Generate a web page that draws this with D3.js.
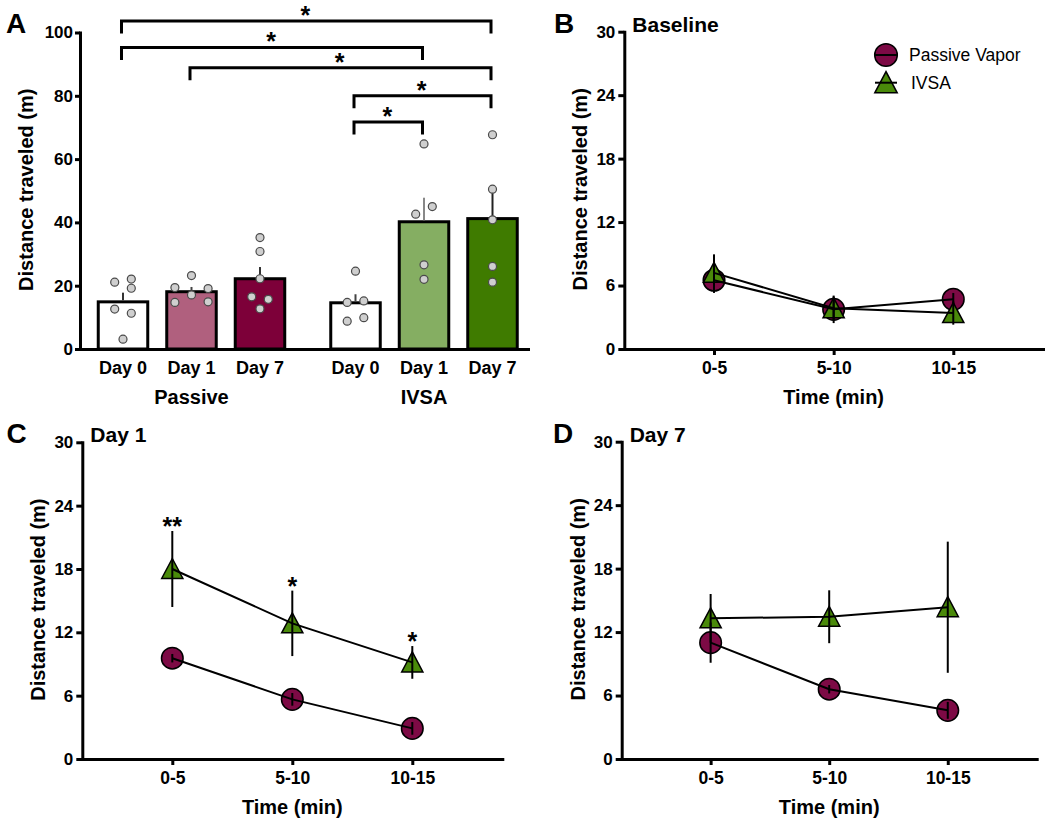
<!DOCTYPE html>
<html><head><meta charset="utf-8">
<script src="https://cdn.jsdelivr.net/npm/d3@7"></script>
<style>
body{margin:0;background:#fff;}
svg{display:block;font-family:"Liberation Sans",Arial,Helvetica,sans-serif;}
</style></head><body>
<svg id="c" width="1050" height="825"></svg>
<script>
// ---------------- DATA ----------------
const groups = ["Passive", "IVSA"];
const days = ["Day 0", "Day 1", "Day 7"];
const barMeans = [[14.9, 18.1, 22.2], [14.6, 40.2, 41.2]];
const barSEM = [[2.9, 1.5, 3.7], [2.7, 7.6, 9.2]];
const barPoints = [
  [[21.1, 22.1, 19.2, 12.6, 11.3, 3.1], [19.4, 23.2, 19.1, 14.7, 17.1, 14.9], [35.2, 30.8, 22.2, 16.5, 15.7, 12.7]],
  [[24.6, 14.7, 15.2, 8.8, 9.9], [64.8, 42.6, 45.0, 26.6, 22.0], [67.7, 50.5, 40.8, 26.1, 21.1]]
];
const dotSlots = [
  [[-1, 1, 1, -1, 1, 0], [-2, 0, 2, -2, 0, 2], [0, 0, 0, -1, 1, 0]],
  [[0, -1, 1, -1, 1], [0, -1, 1, 0, 0], [0, 0, 0, 0, 0]]
];
const barTicks = [0, 20, 40, 60, 80, 100];
// comparisons: from [group, day] to [group, day], bracket level (m), label
const comparisons = [
  { a: [0, 0], b: [1, 2], level: 103.6, label: "*" },
  { a: [0, 0], b: [1, 1], level: 95.3, label: "*" },
  { a: [0, 1], b: [1, 2], level: 88.9, label: "*" },
  { a: [1, 0], b: [1, 2], level: 80.0, label: "*" },
  { a: [1, 0], b: [1, 1], level: 71.7, label: "*" }
];

const timeBins = ["0-5", "5-10", "10-15"];
const lineTicks = [0, 6, 12, 18, 24, 30];
const seriesNames = ["Passive Vapor", "IVSA"];
const baselinePassive = [6.5, 3.75, 4.7];
const baselinePassiveErr = [1.2, 1.3, 0.6];
const baselineIVSA = [7.2, 3.85, 3.4];
const baselineIVSAErr = [1.75, 1.1, 1.1];
const day1Passive = [9.55, 5.65, 2.9];
const day1PassiveErr = [0.4, 0.6, 0.6];
const day1IVSA = [18.0, 12.85, 9.15];
const day1IVSAErr = [3.6, 3.1, 1.55];
const day1Stars = ["**", "*", "*"];
const day7Passive = [11.0, 6.6, 4.6];
const day7PassiveErr = [1.9, 0.4, 0.8];
const day7IVSA = [13.3, 13.45, 14.35];
const day7IVSAErr = [2.3, 2.5, 6.2];

// ---------------- STYLE ----------------
const barFill = [["#ffffff", "#b0607e", "#7d0039"], ["#ffffff", "#85ae62", "#3f7b00"]];
const errColor = [["#333", "#444", "#333"], ["#444", "#888", "#222"]];
const circleFill = "#7d0a45";
const triFill = "#4a8a0a";

const svg = d3.select("#c");

function styleAxis(g, fs) {
  g.select(".domain").attr("stroke", "#000").attr("stroke-width", 3).attr("stroke-linecap", "square");
  g.selectAll(".tick line").attr("stroke", "#000").attr("stroke-width", 3);
  g.selectAll(".tick text").attr("fill", "#000").attr("font-size", fs).attr("font-weight", "bold");
}
function panelLetter(x, y, t) {
  svg.append("text").attr("x", x).attr("y", y).attr("font-size", 28).attr("font-weight", "bold").text(t);
}

// ---------------- PANEL A ----------------
(function () {
  const yA = d3.scaleLinear().domain([0, 100]).range([349, 32.5]);
  const xOuter = d3.scaleBand().domain(groups).range([96.75, 518.75]).paddingInner(0.185);
  const xInner = d3.scaleBand().domain(days).range([0, xOuter.bandwidth()]).paddingInner(0.2336);
  const cx = (g, d) => xOuter(groups[g]) + xInner(days[d]) + xInner.bandwidth() / 2;
  const bw = xInner.bandwidth();

  const cells = [];
  groups.forEach((gn, g) => days.forEach((dn, d) => cells.push({ g, d })));

  // bars
  svg.append("g").selectAll("rect").data(cells).join("rect")
    .attr("x", c => xOuter(groups[c.g]) + xInner(days[c.d]) + 1.5)
    .attr("width", bw - 3)
    .attr("y", c => yA(barMeans[c.g][c.d]))
    .attr("height", c => yA(0) - yA(barMeans[c.g][c.d]))
    .attr("fill", c => barFill[c.g][c.d])
    .attr("stroke", "#000").attr("stroke-width", 3);

  // error bars
  svg.append("g").selectAll("line").data(cells).join("line")
    .attr("x1", c => cx(c.g, c.d)).attr("x2", c => cx(c.g, c.d))
    .attr("y1", c => yA(barMeans[c.g][c.d]) - 1.5)
    .attr("y2", c => yA(barMeans[c.g][c.d] + barSEM[c.g][c.d]))
    .attr("stroke", c => errColor[c.g][c.d]).attr("stroke-width", 2);

  // dots
  const dots = [];
  cells.forEach(c => barPoints[c.g][c.d].forEach((v, i) => dots.push({ x: cx(c.g, c.d) + dotSlots[c.g][c.d][i] * 8.3, v })));
  svg.append("g").selectAll("circle").data(dots).join("circle")
    .attr("cx", p => p.x).attr("cy", p => yA(p.v)).attr("r", 4)
    .attr("fill", "#cfcfcf").attr("stroke", "#4a4a4a").attr("stroke-width", 1.2);

  // axes
  const gy = svg.append("g").attr("transform", "translate(80,0)")
    .call(d3.axisLeft(yA).tickValues(barTicks).tickSize(5).tickPadding(2).tickSizeOuter(0));
  styleAxis(gy, 17);
  const gx = svg.append("g").attr("transform", "translate(0,349)")
    .call(d3.axisBottom(d3.scaleLinear().domain([0, 1]).range([80, 528])).tickValues([]).tickSizeOuter(0));
  styleAxis(gx, 17);

  // x labels
  svg.append("g").selectAll("text").data(cells).join("text")
    .attr("x", c => cx(c.g, c.d)).attr("y", 373.5).attr("text-anchor", "middle")
    .attr("font-size", 18).attr("font-weight", "bold").text(c => days[c.d]);
  svg.append("g").selectAll("text").data(groups).join("text")
    .attr("x", (gn, g) => cx(g, 1)).attr("y", 404).attr("text-anchor", "middle")
    .attr("font-size", 20).attr("font-weight", "bold").text(d => d);

  // y title
  svg.append("text").attr("transform", `translate(33,${(yA(0) + yA(100)) / 2 - 1}) rotate(-90)`)
    .attr("text-anchor", "middle").attr("font-size", 20).attr("font-weight", "bold").text("Distance traveled (m)");

  // brackets
  const br = svg.append("g");
  comparisons.forEach(cmp => {
    const x1 = cx(cmp.a[0], cmp.a[1]) - 1.5, x2 = cx(cmp.b[0], cmp.b[1]) - 1.5, y = yA(cmp.level);
    br.append("path").attr("d", `M${x1},${y + 12.5}V${y}H${x2}V${y + 12.5}`)
      .attr("fill", "none").attr("stroke", "#000").attr("stroke-width", 3).attr("stroke-linejoin", "miter");
    br.append("text").attr("x", (x1 + x2) / 2 - 1).attr("y", y + 3).attr("text-anchor", "middle")
      .attr("font-size", 25).attr("font-weight", "bold").text(cmp.label);
  });

  panelLetter(6, 33, "A");
})();

// ---------------- LINE PANELS ----------------
function linePanel(cfg) {
  const xs = d3.scaleLinear().domain([-0.75, 2.75]).range([cfg.x0, cfg.x1]);
  const ys = d3.scaleLinear().domain([0, 30]).range([cfg.yBot, cfg.yTop]);
  const g = svg.append("g");
  const tri = "M0,-10.5L10.6,9.5L-10.6,9.5Z";
  const [P, I] = cfg.series;

  // markers
  g.append("g").selectAll("circle").data(P.vals).join("circle")
    .attr("cx", (v, i) => xs(i)).attr("cy", v => ys(v)).attr("r", 10.8)
    .attr("fill", circleFill).attr("stroke", "#000").attr("stroke-width", 1.5);
  g.append("g").selectAll("path").data(I.vals).join("path")
    .attr("d", tri).attr("transform", (v, i) => `translate(${xs(i)},${ys(v)})`)
    .attr("fill", triFill).attr("stroke", "#000").attr("stroke-width", 1.5);

  // connecting lines
  const line = d3.line().x((v, i) => xs(i)).y(v => ys(v));
  [P, I].forEach(s => g.append("path").attr("d", line(s.vals)).attr("fill", "none")
    .attr("stroke", "#000").attr("stroke-width", 2));

  // error bars
  [P, I].forEach(s => g.append("g").selectAll("line").data(s.vals).join("line")
    .attr("x1", (v, i) => xs(i)).attr("x2", (v, i) => xs(i))
    .attr("y1", (v, i) => ys(v - s.errs[i])).attr("y2", (v, i) => ys(v + s.errs[i]))
    .attr("stroke", "#000").attr("stroke-width", 2));

  // stars
  if (cfg.stars) {
    g.append("g").selectAll("text").data(cfg.stars).join("text")
      .attr("x", (t, i) => xs(i)).attr("y", (t, i) => ys(I.vals[i] + I.errs[i]) + 4)
      .attr("text-anchor", "middle").attr("font-size", 25).attr("font-weight", "bold").text(t => t);
  }

  // axes
  const gy = g.append("g").attr("transform", `translate(${cfg.x0},0)`)
    .call(d3.axisLeft(ys).tickValues(lineTicks).tickSize(6).tickPadding(3).tickSizeOuter(0));
  styleAxis(gy, 17);
  const gx = g.append("g").attr("transform", `translate(0,${cfg.yBot})`)
    .call(d3.axisBottom(xs).tickValues([0, 1, 2]).tickFormat(i => timeBins[i]).tickSize(6).tickPadding(7).tickSizeOuter(0));
  styleAxis(gx, 17.5);

  g.append("text").attr("x", xs(1)).attr("y", cfg.yBot + 55).attr("text-anchor", "middle")
    .attr("font-size", 20).attr("font-weight", "bold").text("Time (min)");
  g.append("text").attr("transform", `translate(${cfg.x0 - 37},${(cfg.yTop + cfg.yBot) / 2 - 1}) rotate(-90)`)
    .attr("text-anchor", "middle").attr("font-size", 20).attr("font-weight", "bold").text("Distance traveled (m)");

  g.append("text").attr("x", cfg.x0 + 8).attr("y", cfg.yTop).attr("font-size", 21).attr("font-weight", "bold").text(cfg.title);
  panelLetter(cfg.letterX, cfg.yTop + 1, cfg.letter);

  if (cfg.legend) {
    const lg = g.append("g");
    const lx = 886, ly = [55, 82.7];
    lg.append("circle").attr("cx", lx).attr("cy", ly[0]).attr("r", 11.3)
      .attr("fill", circleFill).attr("stroke", "#000").attr("stroke-width", 1.5);
    lg.append("path").attr("d", tri).attr("transform", `translate(${lx},${ly[1]}) scale(1.05)`)
      .attr("fill", triFill).attr("stroke", "#000").attr("stroke-width", 1.5);
    ly.forEach(y => lg.append("line").attr("x1", lx - 11).attr("x2", lx + 11).attr("y1", y).attr("y2", y)
      .attr("stroke", "#000").attr("stroke-width", 2));
    lg.selectAll("text.lt").data(seriesNames).join("text").attr("class", "lt")
      .attr("x", (d, i) => i === 0 ? 909 : 911).attr("y", (d, i) => ly[i] + 6.3)
      .attr("font-size", 17.5).text(d => d);
  }
}

linePanel({
  x0: 624.3, x1: 1043, yTop: 31.7, yBot: 349, letter: "B", letterX: 554, title: "Baseline", legend: true,
  series: [{ vals: baselinePassive, errs: baselinePassiveErr }, { vals: baselineIVSA, errs: baselineIVSAErr }]
});
linePanel({
  x0: 82.3, x1: 502.3, yTop: 442.3, yBot: 759, letter: "C", letterX: 6.5, title: "Day 1", stars: day1Stars,
  series: [{ vals: day1Passive, errs: day1PassiveErr }, { vals: day1IVSA, errs: day1IVSAErr }]
});
linePanel({
  x0: 621.7, x1: 1036.7, yTop: 441.7, yBot: 759, letter: "D", letterX: 553, title: "Day 7",
  series: [{ vals: day7Passive, errs: day7PassiveErr }, { vals: day7IVSA, errs: day7IVSAErr }]
});
</script>
</body></html>
